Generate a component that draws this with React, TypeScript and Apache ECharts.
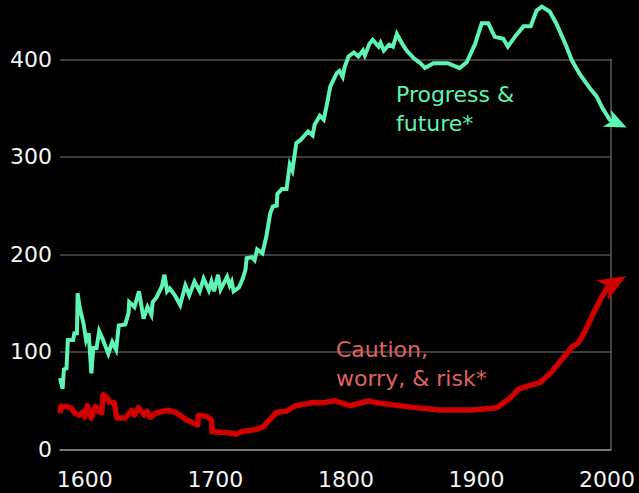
import React, { useEffect, useRef } from "react";
import * as echarts from "echarts";

// Progress & future* (green)
const progressYears = [
  1581, 1583, 1584, 1586, 1587, 1591, 1592, 1594, 1594.5, 1596, 1599, 1601, 1603, 1605, 1606.5, 1609,
  1611, 1614, 1618, 1621, 1624, 1626, 1631, 1633.5, 1634, 1638, 1641.5, 1645, 1648, 1651, 1652, 1655,
  1659, 1661, 1663, 1665, 1669, 1673, 1677, 1680, 1684, 1688, 1691, 1695, 1697, 1699, 1702, 1704,
  1709, 1711, 1712.5, 1714, 1718, 1721, 1723, 1724, 1728, 1730, 1732, 1736, 1739, 1742, 1744, 1747,
  1747.5, 1751, 1754.5, 1757, 1759, 1762, 1765, 1767, 1771, 1774.5, 1776, 1780, 1783, 1785, 1788, 1793,
  1795, 1797.5, 1799, 1802, 1806, 1809.5, 1813, 1814.5, 1818, 1820.5, 1825, 1826.5, 1829, 1833, 1836, 1839,
  1843, 1846.5, 1852, 1857, 1860.5, 1867, 1878, 1887, 1892.5, 1899, 1904, 1909, 1914, 1920.5, 1924, 1930.5,
  1936, 1941.5, 1946, 1950, 1956, 1961, 1968, 1973, 1979, 1987, 1992, 1996, 2002, 2005,
];
const progressValues = [
  73, 62, 82, 83, 112, 112, 119, 119, 160, 146, 129, 112, 119, 78, 104, 104,
  121, 112, 98, 110, 102, 127, 128, 140, 151, 146, 162, 134, 146, 138, 151, 156,
  167, 179, 162, 165, 158, 148, 168, 158, 172, 162, 175, 163, 172, 162, 179, 164,
  177, 168, 172, 162, 166, 175, 184, 196, 197, 194, 205, 201, 218, 242, 249, 250,
  262, 267, 267, 292, 286, 314, 317, 320, 326, 322, 333, 342, 338, 351, 372, 386,
  388, 382, 392, 403, 407, 403, 409, 404, 416, 420, 413, 417, 409, 415, 413, 426,
  416, 409, 401, 396, 391, 396, 396, 391, 397, 416, 437, 437, 423, 421, 413, 425,
  434, 434, 450, 454, 449, 437, 416, 399, 385, 370, 362, 351, 338, 336,
];
const progressArrowTip = [2015, 330];

// Caution, worry, & risk* (red)
const cautionYears = [
  1581, 1581.5, 1586, 1589.5, 1592.5, 1596, 1599, 1600, 1602, 1605, 1608, 1610, 1613, 1614, 1617.5, 1619,
  1622.5, 1624.5, 1631, 1636, 1638, 1641, 1645.5, 1648, 1650, 1655, 1664, 1670, 1678, 1686.5, 1687, 1693,
  1697, 1697.5, 1710, 1716, 1720, 1731.5, 1736.5, 1747, 1754.5, 1761, 1775, 1782.5, 1791.5, 1803, 1817, 1826,
  1851.5, 1872, 1897.5, 1915.5, 1925.5, 1932, 1939.5, 1948.5, 1957.5, 1965, 1973, 1978, 1983, 1989.5, 1996, 2001,
];
const cautionValues = [
  37, 44, 44, 42, 37, 35, 38.6, 33, 45, 32, 44, 39, 37.5, 56, 52, 48,
  48, 32, 32, 40, 35, 43, 35, 39, 33, 37.5, 40, 37.5, 30, 25, 35, 34,
  30, 18, 17, 15.4, 18, 20.5, 23, 38, 39, 44.5, 48, 47.8, 49.8, 44.7, 49.5, 47.2,
  43, 40.3, 40.3, 42.7, 52.3, 61.5, 65, 68.3, 79.6, 91.6, 104.6, 109.3, 120.6, 139.5, 156.5, 167,
];
const cautionArrowTip = [2014.5, 177.7];

const xTickYears = [1600, 1700, 1800, 1900, 2000];
const yTicks = [0, 100, 200, 300, 400];

const GREEN = "#5ef5b4";
const RED = "#d00000";
const FONT = "'DejaVu Sans', sans-serif";

function pairs(years: number[], values: number[]) {
  return years.map((y, i) => [y, values[i]]);
}

// arrow head polygon (notched) from a tip in pixels, screen angle (deg, ccw), length, half width
function arrowPoints(tip: number[], angleDeg: number, len: number, halfW: number) {
  const a = (angleDeg * Math.PI) / 180;
  const dx = Math.cos(a);
  const dy = -Math.sin(a);
  const nx = -dy;
  const ny = dx;
  const bx = tip[0] - len * dx;
  const by = tip[1] - len * dy;
  const notch = [tip[0] - 0.72 * len * dx, tip[1] - 0.72 * len * dy];
  return [
    [tip[0], tip[1]],
    [bx + halfW * nx, by + halfW * ny],
    notch,
    [bx - halfW * nx, by - halfW * ny],
  ];
}

export default function App() {
  const ref = useRef<HTMLDivElement>(null);
  useEffect(() => {
    if (!ref.current) return;
    const chart = echarts.init(ref.current, null, { renderer: "svg" });
    chart.setOption({
      animation: false,
      backgroundColor: "#000000",
      grid: { left: 60, right: 28, top: 59.3, bottom: 43.7 },
      xAxis: {
        type: "value",
        min: 1581,
        max: 2003,
        axisLine: { show: true, lineStyle: { color: "#8c8c8c", width: 1.5 } },
        axisTick: { show: false },
        splitLine: { show: false },
        axisLabel: {
          customValues: xTickYears,
          formatter: (v: number) => String(v),
          color: "#f4f4f4",
          fontSize: 22,
          fontFamily: FONT,
          margin: 19,
        },
      },
      yAxis: [
        {
          type: "value",
          min: yTicks[0],
          max: yTicks[yTicks.length - 1],
          interval: 100,
          axisLine: { show: false },
          axisTick: { show: false },
          splitLine: { show: true, lineStyle: { color: "#505050", width: 1.5 } },
          axisLabel: {
            color: "#f4f4f4",
            fontSize: 22,
            fontFamily: FONT,
            margin: 8,
          },
        },
        {
          type: "value",
          position: "right",
          min: yTicks[0],
          max: yTicks[yTicks.length - 1],
          interval: 100,
          axisLine: { show: true, lineStyle: { color: "#5a5a5a", width: 1.5 } },
          axisTick: { show: false },
          splitLine: { show: false },
          axisLabel: { show: false },
        },
      ],
      series: [
        {
          name: "Caution, worry, & risk*",
          type: "line",
          clip: false,
          showSymbol: false,
          lineStyle: { color: RED, width: 5.5, join: "round", cap: "butt" },
          data: pairs(cautionYears, cautionValues),
          z: 3,
        },
        {
          name: "Progress & future*",
          type: "line",
          clip: false,
          showSymbol: false,
          lineStyle: { color: GREEN, width: 4, join: "miter", cap: "butt" },
          data: pairs(progressYears, progressValues),
          z: 4,
        },
      ],
    });

    const gTip = chart.convertToPixel({ xAxisIndex: 0, yAxisIndex: 0 }, progressArrowTip) as number[];
    const rTip = chart.convertToPixel({ xAxisIndex: 0, yAxisIndex: 0 }, cautionArrowTip) as number[];

    chart.setOption({
      graphic: [
        {
          type: "polygon",
          z: 20,
          shape: { points: arrowPoints(gTip, -25, 22, 9.5) },
          style: { fill: GREEN },
        },
        {
          type: "polygon",
          z: 20,
          shape: { points: arrowPoints(rTip, 31, 28, 11.5) },
          style: { fill: RED },
        },
        {
          type: "text",
          left: 396,
          top: 80,
          z: 10,
          style: {
            text: "Progress &\nfuture*",
            fill: GREEN,
            font: `22px ${FONT}`,
            lineHeight: 29,
          },
        },
        {
          type: "text",
          left: 336,
          top: 335,
          z: 10,
          style: {
            text: "Caution,\nworry, & risk*",
            fill: "#e06262",
            font: `22px ${FONT}`,
            lineHeight: 29,
          },
        },
      ],
    });
    return () => chart.dispose();
  }, []);
  return (
    <div
      ref={ref}
      style={{ position: "fixed", left: 0, top: 0, width: 639, height: 493, background: "#000" }}
    />
  );
}
